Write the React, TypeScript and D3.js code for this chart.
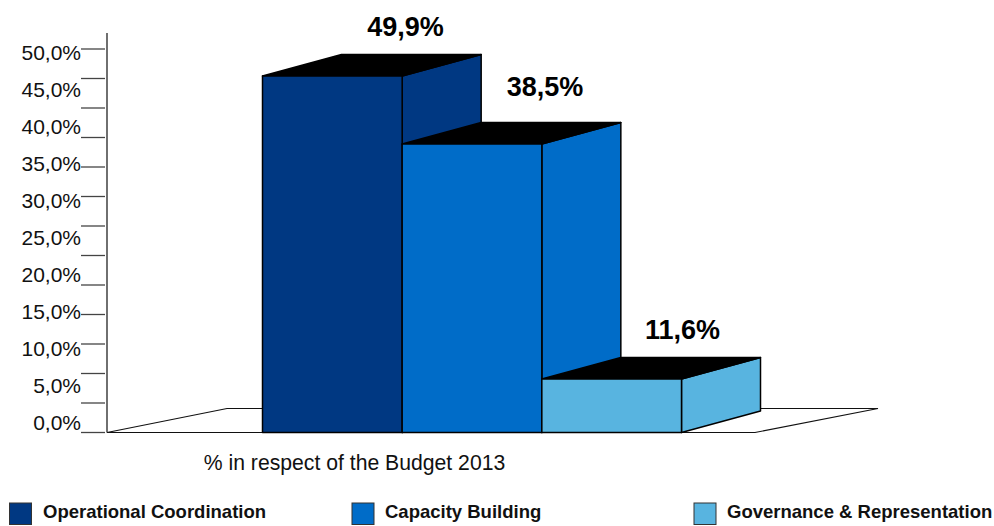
import React from "react";
import * as d3 from "d3";

const categories = ["Operational Coordination", "Capacity Building", "Governance & Representation"];
const values = [49.9, 38.5, 11.6];
const valueLabels = ["49,9%", "38,5%", "11,6%"];
const colors = ["#003882", "#006CC8", "#58B4E0"];
const axisLabels = ["0,0%", "5,0%", "10,0%", "15,0%", "20,0%", "25,0%", "30,0%", "35,0%", "40,0%", "45,0%", "50,0%"];
const axisLabelValues = [0, 5, 10, 15, 20, 25, 30, 35, 40, 45, 50];
const tickMarks = [0, 1, 2, 3, 4, 5, 6, 7, 8, 9, 10, 11, 12, 13];
const xAxisTitle = "% in respect of the Budget 2013";
const legendX = [9, 351.5, 693.5];
const legendTextX = [43, 385, 727];
const valueLabelX = [405.5, 545, 682.5];
const valueLabelY = [36, 96, 339];

const FONT = "'Liberation Sans', Arial, sans-serif";
const baseY = 432.5;
const depthX = 79;
const depthY = -21.5;

// The source drew its bars out of proportion, so the scale follows the drawn heights.
const yBar = d3.scaleLinear().domain([0, 11.6, 38.5, 49.9]).range([baseY, 379, 144, 76]);
const yLabel = d3.scaleLinear().domain([0, 50]).range([430, 60]);
const yTick = d3.scaleLinear().domain([0, 13]).range([baseY, 49]);
const xBand = d3.scaleBand<number>().domain([0, 1, 2]).range([262.5, 681.5]).padding(0);

const poly = (pts: [number, number][]) => (d3.line()(pts) as string) + "Z";

export default function App() {
  const bw = xBand.bandwidth();
  return (
    <svg
      width={994}
      height={526}
      style={{ position: "absolute", left: 0, top: 0, background: "#fff" }}
      fontFamily={FONT}
    >
      {/* floor */}
      <path
        d={poly([[107, baseY], [227, 408.5], [878, 408.5], [755, baseY]])}
        fill="#fff"
        stroke="#111"
        strokeWidth={1.2}
      />
      {/* y axis */}
      <line x1={107} x2={107} y1={33} y2={baseY} stroke="#222" strokeWidth={1.3} />
      {tickMarks.map((t) => (
        <line key={t} x1={81} x2={105} y1={yTick(t)} y2={yTick(t)} stroke="#444" strokeWidth={1.3} />
      ))}
      {axisLabels.map((l, i) => (
        <text key={l} x={81} y={yLabel(axisLabelValues[i])} textAnchor="end" fontSize={21} fill="#111">
          {l}
        </text>
      ))}
      {/* bars */}
      {values.map((v, i) => {
        const x0 = xBand(i) as number;
        const x1 = x0 + bw;
        const yt = yBar(v);
        return (
          <g key={categories[i]} stroke="#000" strokeWidth={1.5} strokeLinejoin="round">
            <path
              d={poly([[x1, yt], [x1 + depthX, yt + depthY], [x1 + depthX, baseY + depthY], [x1, baseY]])}
              fill={colors[i]}
            />
            <path
              d={poly([[x0, yt], [x0 + depthX, yt + depthY], [x1 + depthX, yt + depthY], [x1, yt]])}
              fill="#000"
            />
            <rect x={x0} y={yt} width={bw} height={baseY - yt} fill={colors[i]} />
          </g>
        );
      })}
      {valueLabels.map((l, i) => (
        <text key={l} x={valueLabelX[i]} y={valueLabelY[i]} textAnchor="middle" fontSize={27} fontWeight="bold" fill="#000">
          {l}
        </text>
      ))}
      <text x={354.5} y={470} textAnchor="middle" fontSize={21.2} fill="#111">
        {xAxisTitle}
      </text>
      {/* legend */}
      {categories.map((c, i) => (
        <g key={c}>
          <rect x={legendX[i] + 0.5} y={503} width={22} height={21.5} fill={colors[i]} stroke="#333" strokeWidth={1} />
          <text x={legendTextX[i]} y={518} fontSize={18.5} fontWeight="bold" fill="#111">
            {c}
          </text>
        </g>
      ))}
    </svg>
  );
}
